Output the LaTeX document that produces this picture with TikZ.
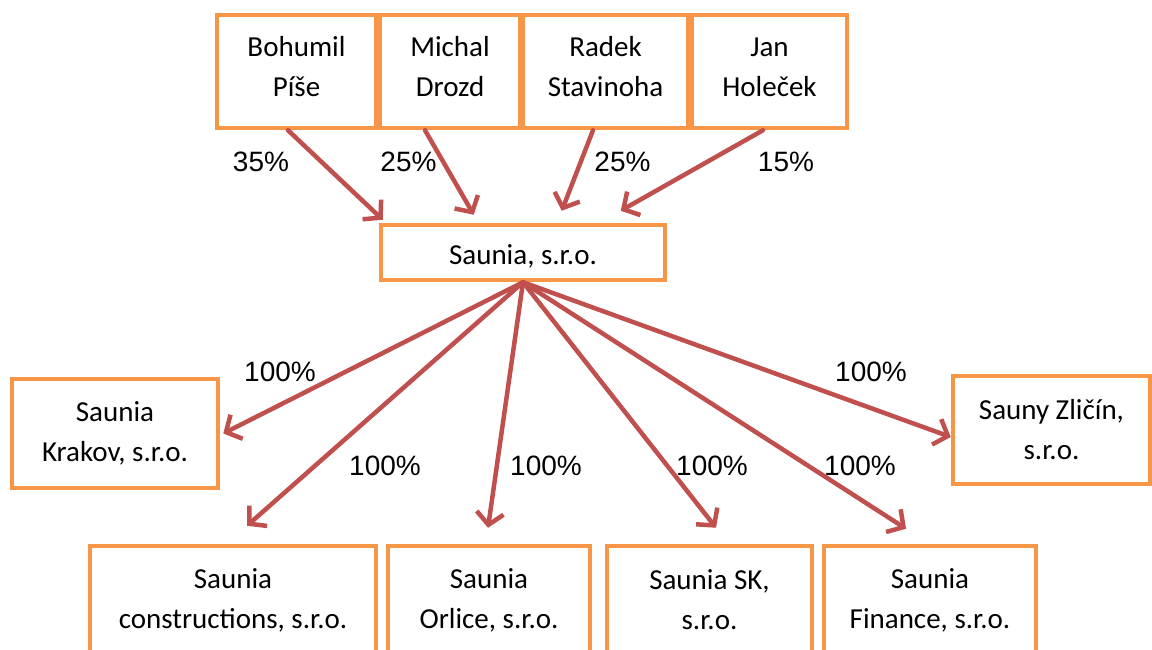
\documentclass[tikz,border=0pt]{standalone}
\usepackage{fontspec}
\setmainfont{Carlito}
\newfontfamily\pctfont{Liberation Sans}
\usepackage{tikz}
\usetikzlibrary{arrows.meta}
\definecolor{boxorange}{HTML}{F79646}
\definecolor{arrowred}{HTML}{C0504D}
\newcommand{\ownername}[2]{\raisebox{3pt}[\height][\depth]{\begin{tabular}{@{}c@{}}#1\\#2\end{tabular}}}
\tikzstyle{firm} = [rectangle, draw=boxorange, line width=4.5pt, fill=white, align=center, inner sep=0pt, font=\fontsize{29}{40}\selectfont]
\tikzstyle{arrow} = [draw=arrowred, line width=4.5pt, line cap=round, -{Straight Barb[length=12pt,width=27pt]}]
\tikzstyle{share} = [inner sep=0pt, font=\pctfont\fontsize{28}{34}\selectfont]

\begin{document}
\begin{tikzpicture}[x=1pt, y=-1pt]
    \useasboundingbox (0,0) rectangle (1152,650);
    \clip (0,0) rectangle (1152,650);

    % owners
    \node (bohumil) [firm, minimum width=159pt, minimum height=113pt] at (296.5,71.5) {\ownername{Bohumil}{Píše}};
    \node (michal) [firm, minimum width=140pt, minimum height=113pt] at (450,71.5) {\ownername{Michal}{Drozd}};
    \node (radek) [firm, minimum width=165pt, minimum height=113pt] at (605.5,71.5) {\ownername{Radek}{Stavinoha}};
    \node (jan) [firm, minimum width=155pt, minimum height=113pt] at (769.5,71.5) {\ownername{Jan}{Holeček}};

    % parent company
    \node (saunia) [firm, minimum width=284pt, minimum height=55pt] at (523,252.5) {\raisebox{-4pt}[\height][\depth]{Saunia, s.r.o.}};

    % subsidiaries
    \node (krakov) [firm, minimum width=206pt, minimum height=109pt] at (115,433.5) {Saunia\\Krakov, s.r.o.};
    \node (zlicin) [firm, minimum width=197pt, minimum height=108pt] at (1051.5,430) {Sauny Zličín,\\s.r.o.};
    \node (constr) [firm, minimum width=286pt, minimum height=108pt] at (233,600) {Saunia\\constructions, s.r.o.};
    \node (orlice) [firm, minimum width=202pt, minimum height=108pt] at (489,600) {Saunia\\Orlice, s.r.o.};
    \node (sk) [firm, minimum width=205pt, minimum height=108pt] at (709.5,600) {Saunia SK,\\s.r.o.};
    \node (finance) [firm, minimum width=212pt, minimum height=108pt] at (930,600) {Saunia\\Finance, s.r.o.};

    % shares
    \node (p35) [share] at (261,162) {35\%};
    \node (p25a) [share] at (408.5,162) {25\%};
    \node (p25b) [share] at (622.5,162) {25\%};
    \node (p15) [share] at (786,162) {15\%};
    \node (pkrakov) [share] at (280,372) {100\%};
    \node (pconstr) [share] at (385,466) {100\%};
    \node (porlice) [share] at (546,466) {100\%};
    \node (psk) [share] at (712,466) {100\%};
    \node (pfinance) [share] at (860,466) {100\%};
    \node (pzlicin) [share] at (871,372) {100\%};

    \draw [arrow] ([xshift=-8.5pt]bohumil.south) -- ([xshift=4pt,yshift=3pt]saunia.north west);
    \draw [arrow] ([xshift=-25pt]michal.south) -- ([xshift=95pt,yshift=8pt]saunia.north west);
    \draw [arrow] ([xshift=-12.5pt]radek.south) -- ([xshift=183pt,yshift=12pt]saunia.north west);
    \draw [arrow] ([xshift=-6.5pt]jan.south) -- ([xshift=242pt,yshift=12pt]saunia.north west);

    \draw [arrow] (saunia.south) -- ([xshift=3pt]krakov.east);
    \draw [arrow] (saunia.south) -- ([xshift=14pt,yshift=18pt]constr.north);
    \draw [arrow] (saunia.south) -- ([xshift=-1pt,yshift=16pt]orlice.north);
    \draw [arrow] (saunia.south) -- ([xshift=6.5pt,yshift=16pt]sk.north);
    \draw [arrow] (saunia.south) -- ([xshift=-24pt,yshift=15pt]finance.north);
    \draw [arrow] (saunia.south) -- ([yshift=-7pt]zlicin.west);
\end{tikzpicture}
\end{document}
